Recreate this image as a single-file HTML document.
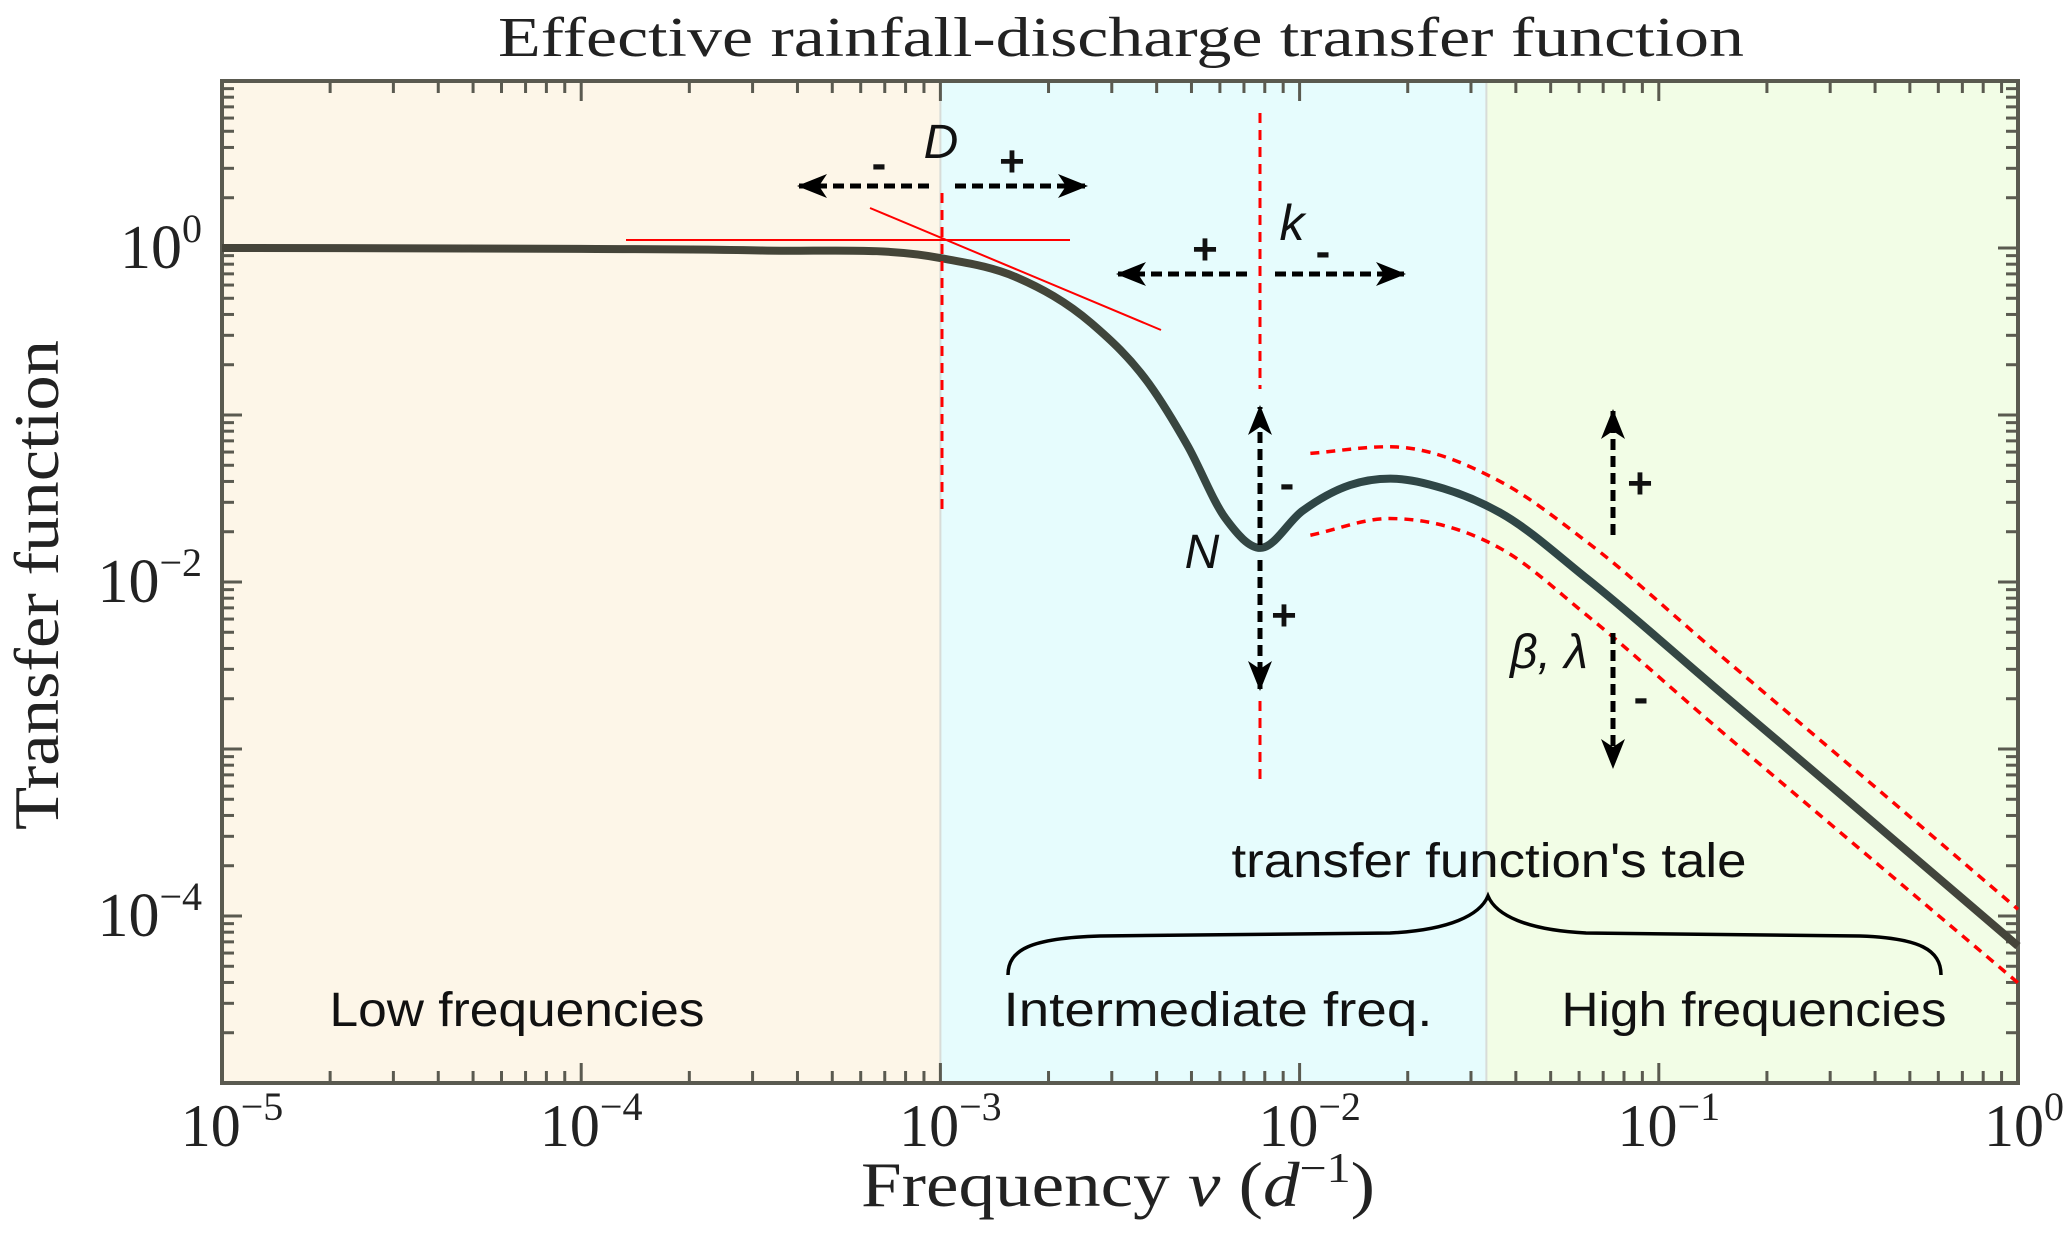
<!DOCTYPE html>
<html><head><meta charset="utf-8"><style>
html,body{margin:0;padding:0;background:#fff}
svg{display:block}
.ser{font-family:"Liberation Serif",serif;fill:#222}
.sans{font-family:"Liberation Sans Narrow","Liberation Sans",sans-serif;fill:#111}
</style></head><body>
<svg id="chart" width="2067" height="1258" viewBox="0 0 2067 1258" xmlns="http://www.w3.org/2000/svg">
<defs>
<linearGradient id="cg" x1="0" x2="1" y1="0" y2="0">
<stop offset="0" stop-color="#45443a"/><stop offset="0.45" stop-color="#444538"/><stop offset="0.6" stop-color="#2f4646"/><stop offset="0.75" stop-color="#2f4646"/><stop offset="1" stop-color="#45443a"/>
</linearGradient>
<marker id="ah" viewBox="0 0 30 24" refX="28" refY="12" markerWidth="30" markerHeight="24" markerUnits="userSpaceOnUse" orient="auto"><path d="M0,0 L30,12 L0,24 L8,12 Z" fill="#000"/></marker>
</defs>
<g id="regions"></g>
<g id="frame"></g>
<g id="marks"></g>
<g id="annot"></g>
<text class="ser" x="1121" y="56" font-size="56" text-anchor="middle" textLength="1246" lengthAdjust="spacingAndGlyphs">Effective rainfall-discharge transfer function</text>
<text class="ser" transform="translate(58,585) rotate(-90)" font-size="64" text-anchor="middle" textLength="490" lengthAdjust="spacingAndGlyphs">Transfer function</text>
<text class="ser" x="1118" y="1206" font-size="64" text-anchor="middle" textLength="514" lengthAdjust="spacingAndGlyphs">Frequency <tspan font-style="italic">ν</tspan> (<tspan font-style="italic">d</tspan><tspan dy="-24" font-size="42">−1</tspan><tspan dy="24">)</tspan></text>
</svg>
<script>
const xTickExps=[-5,-4,-3,-2,-1,0];
const yTickExps=[0,-2,-4];
const regionNames=['low-frequency-region','intermediate-frequency-region','high-frequency-region'];
const regionBounds=[-5,-3,-1.48,0];
const curveLogX=[-5,-4,-3.5,-3.0,-2.79,-2.58,-2.418,-2.312,-2.206,-2.109,-1.992,-1.86,-1.747,-1.6,-1.441,-1.2,-0.85,-0.5,0];
const curveLogY=[0,-0.005,-0.015,-0.06,-0.174,-0.45,-0.817,-1.183,-1.62,-1.796,-1.574,-1.42,-1.381,-1.44,-1.586,-1.98,-2.62,-3.26,-4.18];
const upperLogX=[-1.97,-1.75,-1.44,-1.2,-0.85,-0.5,0];
const upperLogY=[-1.23,-1.19,-1.40,-1.76,-2.40,-3.04,-3.96];
const lowerLogX=[-1.97,-1.75,-1.44,-1.2,-0.85,-0.5,0];
const lowerLogY=[-1.72,-1.62,-1.80,-2.20,-2.85,-3.49,-4.40];

const L=222,R=2018,T=81,B=1083;
const X=v=>L+(v+5)/5*(R-L);
const Y=v=>T+(1-v)/6*(B-T);
const NS='http://www.w3.org/2000/svg';
function mk(tag,attrs,parent){const e=document.createElementNS(NS,tag);for(const k in attrs)e.setAttribute(k,attrs[k]);parent.appendChild(e);return e;}
const gR=document.getElementById('regions'),gF=document.getElementById('frame'),gM=document.getElementById('marks'),gA=document.getElementById('annot');
const rc=['#fdf6e8','#e6fcfd','#f2fde6'];
for(let i=0;i<3;i++){
 const r=mk('rect',{x:X(regionBounds[i]),y:T,width:X(regionBounds[i+1])-X(regionBounds[i]),height:B-T,fill:rc[i]},gR);
 
 
}
for(let i=1;i<3;i++){const l=mk('line',{x1:X(regionBounds[i]),x2:X(regionBounds[i]),y1:T,y2:B,stroke:'#d8dcd8','stroke-width':2},gR);
 
 }
const fc='#5a5a50';
for(let d=-5;d<0;d++){for(let m=1;m<10;m++){const v=d+Math.log10(m);const len=m==1?20:12;const x=X(v);
 mk('line',{x1:x,x2:x,y1:B,y2:B-len,stroke:fc,'stroke-width':3},gF);
 mk('line',{x1:x,x2:x,y1:T,y2:T+len,stroke:fc,'stroke-width':3},gF);}}
for(let d=-5;d<1;d++){for(let m=1;m<10;m++){const v=d+Math.log10(m);const len=m==1?20:12;const y=Y(v);
 mk('line',{x1:L,x2:L+len,y1:y,y2:y,stroke:fc,'stroke-width':3},gF);
 mk('line',{x1:R,x2:R-len,y1:y,y2:y,stroke:fc,'stroke-width':3},gF);}}
const fr=mk('rect',{x:L,y:T,width:R-L,height:B-T,fill:'none',stroke:fc,'stroke-width':4},gF);


xTickExps.forEach(e=>{const t=mk('text',{x:X(e)+(e==0?6:10),y:1146,'font-size':60,'text-anchor':'middle',class:'ser'},gF);
 
 
 t.innerHTML='10<tspan dy="-26" font-size="40">'+(e==0?'0':'−'+(-e))+'</tspan>';});
yTickExps.forEach(e=>{const t=mk('text',{x:202,y:Y(e)+20,'font-size':62,'text-anchor':'end',class:'ser'},gF);
 
 
 t.innerHTML='10<tspan dy="-26" font-size="40">'+(e==0?'0':'−'+(-e))+'</tspan>';});
function path(xs,ys){const n=xs.length;const m=[];
 for(let i=0;i<n;i++){if(i==0)m.push((ys[1]-ys[0])/(xs[1]-xs[0]));else if(i==n-1)m.push((ys[n-1]-ys[n-2])/(xs[n-1]-xs[n-2]));
  else{const a=(ys[i]-ys[i-1])/(xs[i]-xs[i-1]),b=(ys[i+1]-ys[i])/(xs[i+1]-xs[i]);
   m.push(a*b<=0?0:(a*(xs[i+1]-xs[i])+b*(xs[i]-xs[i-1]))/(xs[i+1]-xs[i-1]));}}
 let d='M'+X(xs[0])+','+Y(ys[0]);
 for(let i=0;i<n-1;i++){const h=xs[i+1]-xs[i];
  const c1x=xs[i]+h/3,c1y=ys[i]+m[i]*h/3,c2x=xs[i+1]-h/3,c2y=ys[i+1]-m[i+1]*h/3;
  d+=' C'+X(c1x)+','+Y(c1y)+' '+X(c2x)+','+Y(c2y)+' '+X(xs[i+1])+','+Y(ys[i+1]);}
 return d;}
const up=mk('path',{d:path(upperLogX,upperLogY),fill:'none',stroke:'#f00','stroke-width':3.5,'stroke-dasharray':'9 7'},gM);


const lo=mk('path',{d:path(lowerLogX,lowerLogY),fill:'none',stroke:'#f00','stroke-width':3.5,'stroke-dasharray':'9 7'},gM);


const cv=mk('path',{d:path(curveLogX,curveLogY),fill:'none',stroke:'url(#cg)','stroke-width':8,'stroke-linecap':'butt'},gM);


gA.innerHTML=`
<line x1="942" x2="942" y1="193" y2="514" stroke="#f00" stroke-width="3" stroke-dasharray="10 7"/>
<line x1="1260" x2="1260" y1="113" y2="389" stroke="#f00" stroke-width="3" stroke-dasharray="10 7"/>
<line x1="1260" x2="1260" y1="701" y2="781" stroke="#f00" stroke-width="3" stroke-dasharray="10 7"/>
<line x1="626" x2="1070" y1="240" y2="240" stroke="#f00" stroke-width="2"/>
<line x1="870" y1="208" x2="1161" y2="330" stroke="#f00" stroke-width="2"/>
<g stroke="#000" stroke-width="5" stroke-dasharray="11 6" fill="none">
<line x1="929" y1="186" x2="799" y2="186" marker-end="url(#ah)"/>
<line x1="955" y1="186" x2="1086" y2="186" marker-end="url(#ah)"/>
<line x1="1247" y1="274" x2="1118" y2="274" marker-end="url(#ah)"/>
<line x1="1275" y1="274" x2="1404" y2="274" marker-end="url(#ah)"/>
<line x1="1260" y1="545" x2="1260" y2="407" marker-end="url(#ah)"/>
<line x1="1260" y1="560" x2="1260" y2="689" marker-end="url(#ah)"/>
<line x1="1613" y1="535" x2="1613" y2="411" marker-end="url(#ah)"/>
<line x1="1613" y1="633" x2="1613" y2="767" marker-end="url(#ah)"/>
</g>
<path d="M1008,975 C1008,950 1030,938 1100,936 L1390,933 C1450,930 1480,915 1488,896 C1496,915 1526,930 1586,933 L1860,936 C1920,938 1941,950 1941,975" fill="none" stroke="#000" stroke-width="3.5"/>
<g class="sans" font-size="44">
<text x="879" y="178" text-anchor="middle" font-weight="bold">-</text>
<text x="1012" y="176" text-anchor="middle" font-weight="bold">+</text>
<text x="1205" y="264" text-anchor="middle" font-weight="bold">+</text>
<text x="1323" y="266" text-anchor="middle" font-weight="bold">-</text>
<text x="1287" y="498" text-anchor="middle" font-weight="bold">-</text>
<text x="1284" y="630" text-anchor="middle" font-weight="bold">+</text>
<text x="1640" y="498" text-anchor="middle" font-weight="bold">+</text>
<text x="1641" y="712" text-anchor="middle" font-weight="bold">-</text>
<text x="941" y="158" text-anchor="middle" font-style="italic" font-size="48">D</text>
<text x="1292" y="240" text-anchor="middle" font-style="italic" font-size="50">k</text>
<text x="1202" y="568" text-anchor="middle" font-style="italic" font-size="48">N</text>
<text x="1549" y="668" text-anchor="middle" font-style="italic" font-size="48">β, λ</text>
<text x="1489" y="877" text-anchor="middle" font-size="48" textLength="515" lengthAdjust="spacingAndGlyphs">transfer function's tale</text>
<text x="517" y="1026" text-anchor="middle" font-size="48" textLength="375" lengthAdjust="spacingAndGlyphs">Low frequencies</text>
<text x="1218" y="1026" text-anchor="middle" font-size="48" textLength="429" lengthAdjust="spacingAndGlyphs">Intermediate freq.</text>
<text x="1754" y="1026" text-anchor="middle" font-size="48" textLength="385" lengthAdjust="spacingAndGlyphs">High frequencies</text>
</g>`;
</script>
</body></html>
